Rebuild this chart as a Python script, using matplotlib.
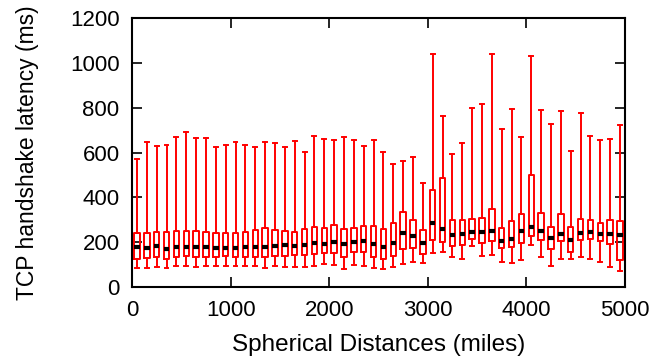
import matplotlib
matplotlib.use("Agg")
import matplotlib.pyplot as plt

plt.rcParams['font.family'] = ['Liberation Sans', 'DejaVu Sans']

# distance bins (miles), one box per 100-mile bin
distance = [50 + 100 * i for i in range(50)]

whisker_low = [83, 86, 91, 86, 95, 95, 91, 94, 95, 95,
               94, 95, 95, 86, 94, 91, 91, 91, 95, 102,
               98, 82, 100, 94, 86, 79, 89, 104, 113, 107,
               150, 158, 132, 125, 181, 140, 143, 113, 109, 120,
               186, 134, 95, 126, 126, 132, 123, 113, 91, 71]
q1 = [127, 130, 135, 125, 135, 138, 135, 135, 135, 138,
      135, 135, 135, 132, 138, 138, 143, 143, 147, 153,
      153, 135, 156, 156, 135, 123, 140, 168, 172, 146,
      210, 199, 184, 187, 216, 195, 204, 174, 177, 198,
      226, 211, 169, 205, 155, 211, 213, 205, 192, 120]
median = [180, 175, 183, 169, 177, 177, 178, 178, 174, 174,
          175, 178, 178, 180, 183, 186, 181, 187, 195, 192,
          202, 192, 201, 204, 192, 180, 196, 239, 226, 195,
          285, 259, 230, 235, 245, 244, 251, 207, 213, 250,
          269, 251, 219, 236, 210, 242, 245, 236, 236, 230]
q3 = [242, 242, 244, 244, 250, 250, 250, 247, 242, 239,
      242, 247, 253, 262, 253, 250, 247, 259, 269, 265,
      277, 260, 265, 272, 274, 257, 287, 336, 297, 256,
      433, 486, 300, 297, 302, 308, 346, 265, 293, 324,
      501, 329, 269, 326, 268, 303, 299, 287, 299, 293]
whisker_high = [571, 645, 627, 632, 671, 693, 663, 665, 624, 633,
                647, 633, 623, 647, 644, 626, 653, 602, 675, 659,
                656, 671, 656, 629, 656, 604, 549, 564, 581, 465,
                1038, 763, 593, 642, 800, 816, 1038, 703, 796, 671,
                1029, 791, 727, 784, 608, 775, 675, 657, 662, 723]

stats = []
for i in range(len(distance)):
    stats.append({'whislo': whisker_low[i], 'q1': q1[i], 'med': median[i],
                  'q3': q3[i], 'whishi': whisker_high[i], 'fliers': []})

fig = plt.figure(figsize=(6.65, 3.58), dpi=100)
ax = fig.add_axes([0.1985, 0.1983, 0.7413, 0.7514])

red = '#ff0000'
ax.bxp(stats, positions=distance, widths=55, showfliers=False,
       manage_ticks=False,
       boxprops=dict(color=red, linewidth=1.4),
       whiskerprops=dict(color=red, linewidth=1.4),
       capprops=dict(color=red, linewidth=1.4),
       capwidths=40,
       medianprops=dict(color='black', linewidth=3.0))

ax.set_xlim(0, 5000)
ax.set_ylim(0, 1200)
ax.set_xticks([0, 1000, 2000, 3000, 4000, 5000])
ax.set_yticks([0, 200, 400, 600, 800, 1000, 1200])
ax.tick_params(direction='in', length=7, width=1.2, top=True, right=True,
               labelsize=16, pad=9)
for s in ax.spines.values():
    s.set_linewidth(1.5)

ax.set_xlabel('Spherical Distances (miles)', fontsize=17.5, labelpad=10)
ax.set_ylabel('TCP handshake latency (ms)', fontsize=16.5, labelpad=22)

fig.savefig('out.png', dpi=100)
